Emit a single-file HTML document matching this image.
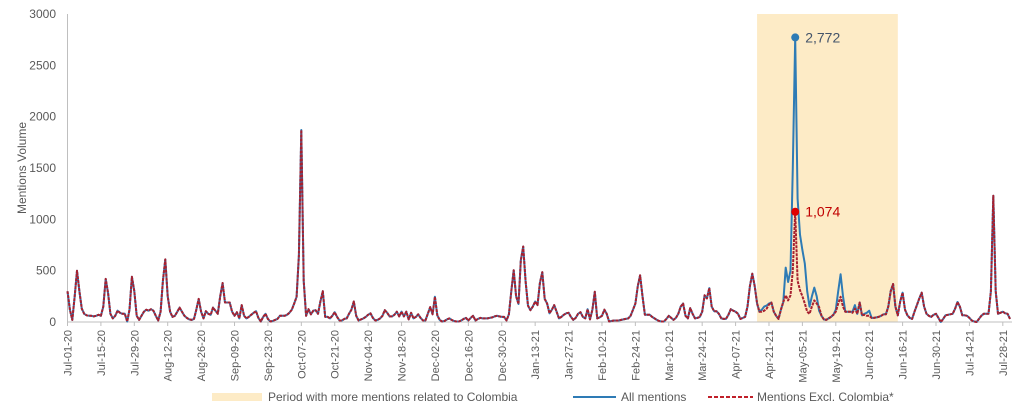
<!DOCTYPE html>
<html><head><meta charset="utf-8">
<style>
body{margin:0;background:#fff;}
svg{display:block;font-family:"Liberation Sans",sans-serif;}
</style></head>
<body>
<svg id="chart" width="1024" height="410" viewBox="0 0 1024 410"></svg>
<script>
const tickLabels=["Jul-01-20","Jul-15-20","Jul-29-20","Aug-12-20","Aug-26-20","Sep-09-20","Sep-23-20","Oct-07-20","Oct-21-20","Nov-04-20","Nov-18-20","Dec-02-20","Dec-16-20","Dec-30-20","Jan-13-21","Jan-27-21","Feb-10-21","Feb-24-21","Mar-10-21","Mar-24-21","Apr-07-21","Apr-21-21","May-05-21","May-19-21","Jun-02-21","Jun-16-21","Jun-30-21","Jul-14-21","Jul-28-21"];
const yTicks=[0,500,1000,1500,2000,2500,3000];
const allMentions=[
300,120,20,250,500,300,130,80,65,60,
60,55,60,70,60,150,420,280,80,35,
60,110,90,80,80,5,120,440,300,60,
20,60,100,120,110,125,110,60,15,100,
400,610,250,100,50,60,100,140,100,60,
40,25,20,30,120,225,100,35,105,80,
70,140,110,80,250,380,190,190,190,100,
60,95,35,165,60,35,50,70,90,105,
40,5,50,80,30,5,10,20,30,60,
60,60,70,90,120,180,245,650,1870,400,
60,125,75,110,115,80,200,300,50,50,
35,60,95,50,15,15,30,35,80,120,
200,60,15,25,35,50,70,85,40,15,
20,35,60,115,90,55,55,70,100,55,
100,55,100,25,90,35,50,75,40,15,
15,80,145,75,245,65,20,5,10,25,
35,20,10,5,5,15,30,40,15,40,
60,15,30,40,35,35,35,40,45,55,
60,55,50,50,15,75,300,505,250,175,
600,735,395,160,115,150,200,165,380,485,
225,180,85,120,165,100,35,50,70,85,
90,50,20,40,80,95,50,35,125,25,
120,295,35,45,60,120,80,5,10,15,
15,15,20,25,30,35,60,120,180,350,
455,250,70,70,70,50,35,20,10,5,
5,30,60,40,20,40,80,150,180,60,
35,135,80,35,40,50,100,260,230,330,
150,105,105,80,35,30,30,70,125,110,
100,80,30,40,50,150,350,470,350,180,
100,120,150,160,180,190,100,60,30,120,
195,530,390,500,1500,2772,1200,850,700,570,
300,150,250,335,250,110,60,25,20,35,
50,70,120,300,465,250,100,100,100,100,
165,80,190,65,80,90,110,40,40,45,
50,60,75,75,150,300,370,150,65,200,
285,120,65,40,30,100,165,230,285,150,
80,60,50,70,80,40,0,30,65,70,
75,80,130,195,150,65,65,60,40,15,
5,0,30,60,80,80,80,300,1230,300,
80,90,100,85,80,30];
const exclStartDay=290;
const exclWindow=[
100,100,110,130,170,190,100,60,30,120,
195,260,210,260,500,1074,400,310,250,180,
100,80,150,210,180,145,60,25,20,35,
50,70,100,180,245,150,100,100,100,90,
130,80,190,65,70,60,60,40,40,45];
const exclColombia=allMentions.map((v,i)=>(i>=exclStartDay&&i<exclStartDay+exclWindow.length)?exclWindow[i-exclStartDay]:v);
const bandStartDay=289, bandEndDay=348;

const NS="http://www.w3.org/2000/svg";
const svg=document.getElementById('chart');
const x0=67.5, pxPerDay=2.386, yBase=322, pxPerUnit=(322-14)/3000;
const X=d=>x0+d*pxPerDay;
const Y=v=>yBase-v*pxPerUnit;
function mk(tag,attrs,parent){const e=document.createElementNS(NS,tag);for(const k in attrs)e.setAttribute(k,attrs[k]);(parent||svg).appendChild(e);return e;}

const band=mk('rect',{x:X(bandStartDay),y:14,width:X(bandEndDay)-X(bandStartDay),height:308,fill:'#fdebc6'});



const yaxis=mk('line',{x1:67.5,y1:14,x2:67.5,y2:322,stroke:'#bfbfbf','stroke-width':1});


const xaxis=mk('line',{x1:67.5,y1:322,x2:1012,y2:322,stroke:'#bfbfbf','stroke-width':1});



yTicks.forEach(v=>{
  const t=mk('text',{x:56,y:Y(v)+4,'text-anchor':'end','font-size':12,fill:'#595959'});
  t.textContent=v;
  
  
});
const yt=mk('text',{x:0,y:0,'text-anchor':'middle','font-size':12,fill:'#595959',transform:'translate(26,168) rotate(-90)'});
yt.textContent='Mentions Volume';



tickLabels.forEach((lab,i)=>{
  const x=X(i*14);
  mk('line',{x1:x,y1:322,x2:x,y2:326,stroke:'#bfbfbf'});
  const t=mk('text',{x:0,y:0,'text-anchor':'end','font-size':11,fill:'#595959',transform:`translate(${x+4},330) rotate(-90)`});
  t.textContent=lab;
  
  
});

function pts(arr){return arr.map((v,i)=>X(i).toFixed(1)+','+Y(v).toFixed(1)).join(' ');}
const blue=mk('polyline',{points:pts(allMentions),fill:'none',stroke:'#2e7bb5','stroke-width':2,'stroke-linejoin':'round'});


const red=mk('polyline',{points:pts(exclColombia),fill:'none',stroke:'#a8202f','stroke-width':2,'stroke-dasharray':'3,1','stroke-linejoin':'round'});



const maxB=Math.max(...allMentions), iB=allMentions.indexOf(maxB);
const db=mk('circle',{cx:X(iB),cy:Y(maxB),r:4,fill:'#2e7bb5'});


const lb=mk('text',{x:X(iB)+10,y:Y(maxB)+5,'font-size':14,fill:'#44546a'});
lb.textContent=maxB.toLocaleString('en-US');


const maxR=exclColombia[iB];
const dr=mk('circle',{cx:X(iB),cy:Y(maxR),r:4,fill:'#e00000'});


const lr=mk('text',{x:X(iB)+10,y:Y(maxR)+5,'font-size':14,fill:'#c00000'});
lr.textContent=maxR.toLocaleString('en-US');



const sw=mk('rect',{x:212,y:393,width:50,height:8,fill:'#fdebc6'});


const t1=mk('text',{x:268,y:401,'font-size':12,fill:'#595959'});
t1.textContent='Period with more mentions related to Colombia';


const l2=mk('line',{x1:573,y1:397,x2:616,y2:397,stroke:'#2e7bb5','stroke-width':2});


const t2=mk('text',{x:621,y:401,'font-size':12,fill:'#595959'});
t2.textContent='All mentions';


const l3=mk('line',{x1:708,y1:397,x2:753,y2:397,stroke:'#c0202a','stroke-width':2,'stroke-dasharray':'4,2'});


const t3=mk('text',{x:757,y:401,'font-size':12,fill:'#595959'});
t3.textContent='Mentions Excl. Colombia*';


</script>
</body></html>
